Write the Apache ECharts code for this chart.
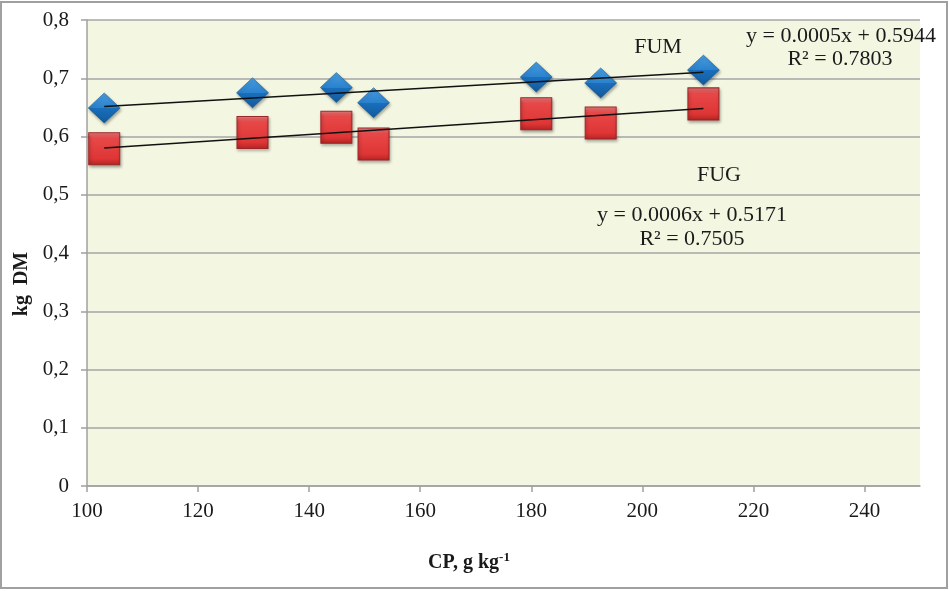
<!DOCTYPE html>
<html>
<head>
<meta charset="utf-8">
<script src="https://cdn.jsdelivr.net/npm/echarts@6/dist/echarts.min.js"></script>
<style>
html,body{margin:0;padding:0;background:#fff;}
#c{width:949px;height:591px;}
</style>
</head>
<body>
<div id="c"></div>
<script>
// Data
const cpValues = [103.1, 129.8, 144.9, 151.6, 180.9, 192.5, 211.0];
const fumValues = [0.649, 0.675, 0.684, 0.658, 0.702, 0.692, 0.714];
const fugValues = [0.579, 0.607, 0.616, 0.587, 0.639, 0.623, 0.656];
const yTicks = [0, 0.1, 0.2, 0.3, 0.4, 0.5, 0.6, 0.7, 0.8];
const xTicks = [100, 120, 140, 160, 180, 200, 220, 240];
const fumEquation = ['y = 0.0005x + 0.5944', 'R² = 0.7803'];
const fugEquation = ['y = 0.0006x + 0.5171', 'R² = 0.7505'];

function fit(xs, ys) {
  const n = xs.length;
  const mx = xs.reduce((a, b) => a + b, 0) / n;
  const my = ys.reduce((a, b) => a + b, 0) / n;
  let sxy = 0, sxx = 0;
  for (let i = 0; i < n; i++) { sxy += (xs[i] - mx) * (ys[i] - my); sxx += (xs[i] - mx) * (xs[i] - mx); }
  const b = sxy / sxx, a = my - b * mx;
  const x0 = Math.min(...xs), x1 = Math.max(...xs);
  return [[x0, a + b * x0], [x1, a + b * x1]];
}
const pairs = (xs, ys) => xs.map((x, i) => [x, ys[i]]);

const font = 'Liberation Serif';
const chart = echarts.init(document.getElementById('c'));

const diamondColor = new echarts.graphic.LinearGradient(0, 0, 0, 1, [
  {offset: 0, color: '#4a9de0'}, {offset: 0.5, color: '#2a82cd'},
  {offset: 0.5, color: '#1a6fbd'}, {offset: 1, color: '#125a9c'}]);
const squareColor = new echarts.graphic.LinearGradient(0, 0, 0, 1, [
  {offset: 0, color: '#f48484'}, {offset: 0.18, color: '#e84848'},
  {offset: 0.8, color: '#df3535'}, {offset: 1, color: '#b42424'}]);

const txt = (text, x, y, size, weight) => ({
  type: 'text', x: x, y: y, z: 100,
  style: {text: text, fontFamily: font, fontSize: size, fontWeight: weight || 'normal',
    fill: '#1a1a1a', align: 'center', verticalAlign: 'middle'}
});

chart.setOption({
  animation: false,
  backgroundColor: '#fff',
  grid: {left: 87, right: 29, top: 20, bottom: 105, show: true,
    backgroundColor: '#f3f6e1', borderWidth: 0},
  xAxis: {
    type: 'value', min: 100, max: 250, interval: 20,
    axisLine: {show: true, lineStyle: {color: '#a0a0a0', width: 1.5}},
    axisTick: {show: true, length: 6, lineStyle: {color: '#a0a0a0', width: 1.5},
      customValues: xTicks},
    axisLabel: {fontFamily: font, fontSize: 21, color: '#1a1a1a', margin: 15,
      customValues: xTicks},
    splitLine: {show: false}
  },
  yAxis: {
    type: 'value', min: 0, max: 0.8, interval: 0.1,
    axisLine: {show: true, lineStyle: {color: '#a0a0a0', width: 1.5}},
    axisTick: {show: true, length: 6, lineStyle: {color: '#a0a0a0', width: 1.5}},
    axisLabel: {fontFamily: font, fontSize: 21, color: '#1a1a1a', margin: 18,
      formatter: v => v === 0 ? '0' : v.toFixed(1).replace('.', ',')},
    splitLine: {show: true, lineStyle: {color: '#a6a6a6', width: 1.5}}
  },
  series: [
    {name: 'FUM', type: 'scatter', symbol: 'diamond', symbolSize: [32, 30],
      data: pairs(cpValues, fumValues),
      itemStyle: {color: diamondColor, borderColor: '#0f4f8a', borderWidth: 0.5,
        shadowColor: 'rgba(0,0,0,0.35)', shadowBlur: 3, shadowOffsetX: 1, shadowOffsetY: 2, opacity: 1}},
    {name: 'FUG', type: 'scatter', symbol: 'rect', symbolSize: [31, 32],
      data: pairs(cpValues, fugValues),
      itemStyle: {color: squareColor, borderColor: '#9a2626', borderWidth: 1,
        shadowColor: 'rgba(0,0,0,0.35)', shadowBlur: 3, shadowOffsetX: 1, shadowOffsetY: 2, opacity: 1}},
    {type: 'line', data: fit(cpValues, fumValues), symbol: 'none', z: 10,
      lineStyle: {color: '#111', width: 1.5}},
    {type: 'line', data: fit(cpValues, fugValues), symbol: 'none', z: 10,
      lineStyle: {color: '#111', width: 1.5}}
  ],
  graphic: [
    {type: 'rect', z: 100, silent: true,
      shape: {x: 1, y: 2, width: 946, height: 586},
      style: {fill: 'none', stroke: '#a0a0a0', lineWidth: 2}},
    txt('FUM', 658, 47, 22),
    txt(fumEquation[0], 841, 36, 22),
    txt(fumEquation[1], 840, 59, 22),
    txt('FUG', 719, 175, 22),
    txt(fugEquation[0], 692, 215, 22),
    txt(fugEquation[1], 692, 239, 22),
    {type: 'text', x: 22, y: 284, rotation: Math.PI / 2, z: 100,
      style: {text: 'kg  DM', fontFamily: font, fontSize: 20, fontWeight: 'bold',
        fill: '#1a1a1a', align: 'center', verticalAlign: 'middle'}},
    {type: 'text', x: 469, y: 563, z: 100,
      style: {text: '{a|CP, g kg}{s|-1}', align: 'center', verticalAlign: 'middle',
        rich: {
          a: {fontFamily: font, fontSize: 20, fontWeight: 'bold', fill: '#1a1a1a', lineHeight: 24},
          s: {fontFamily: font, fontSize: 13, fontWeight: 'bold', fill: '#1a1a1a',
            verticalAlign: 'top', lineHeight: 24, padding: [0, 0, 9, 0]}
        }}}
  ]
});
</script>
</body>
</html>
